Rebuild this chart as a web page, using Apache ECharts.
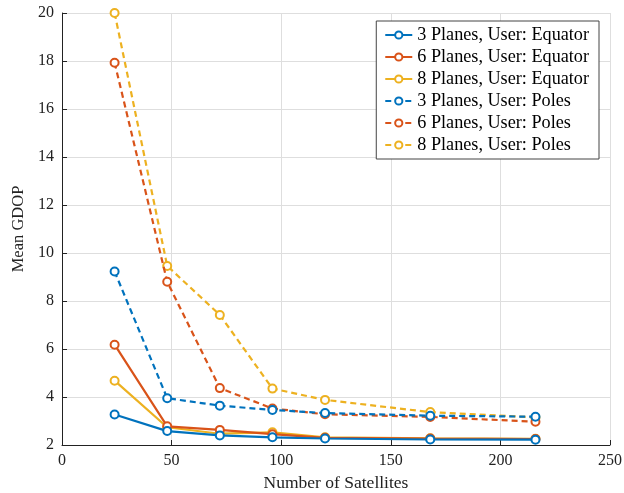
<!DOCTYPE html>
<html><head><meta charset="utf-8">
<script src="https://cdn.jsdelivr.net/npm/echarts@6/dist/echarts.min.js"></script>
<style>html,body{margin:0;padding:0;background:#fff}#c{width:624px;height:493px}</style>
</head><body><div id="c"></div>
<script>
const satellites = [24, 48, 72, 96, 120, 168, 216];
const seriesNames = ['3 Planes, User: Equator','6 Planes, User: Equator','8 Planes, User: Equator','3 Planes, User: Poles','6 Planes, User: Poles','8 Planes, User: Poles'];
const eq3 = [3.27, 2.58, 2.4, 2.32, 2.27, 2.23, 2.22];
const eq6 = [6.18, 2.78, 2.63, 2.45, 2.3, 2.27, 2.25];
const eq8 = [4.68, 2.74, 2.47, 2.53, 2.32, 2.28, 2.26];
const po3 = [9.23, 3.95, 3.64, 3.46, 3.33, 3.22, 3.18];
const po6 = [17.93, 8.8, 4.37, 3.52, 3.28, 3.17, 2.97];
const po8 = [20.0, 9.46, 7.42, 4.35, 3.88, 3.37, 3.15];
const xTicks = [0, 50, 100, 150, 200, 250];
const yTicks = [2, 4, 6, 8, 10, 12, 14, 16, 18, 20];

const colors = ['#0072BD', '#D95319', '#EDB120', '#0072BD', '#D95319', '#EDB120'];
const allData = [eq3, eq6, eq8, po3, po6, po8];
const font = 'Liberation Serif';

const chart = echarts.init(document.getElementById('c'), null, {renderer: 'canvas'});
chart.setOption({
  animation: false,
  backgroundColor: '#fff',
  textStyle: {fontFamily: font},
  grid: {left: 62, right: 14, top: 13, bottom: 48, containLabel: false, outerBoundsMode: 'none'},
  legend: {
    orient: 'vertical', right: 25, top: 21,
    backgroundColor: '#fff', borderColor: '#444', borderWidth: 1,
    padding: [4, 10, 4, 8], itemGap: 2, itemWidth: 27, itemHeight: 9,
    textStyle: {fontFamily: font, fontSize: 18.2, color: '#000', lineHeight: 20},
    data: seriesNames
  },
  xAxis: {
    type: 'value', min: xTicks[0], max: xTicks[xTicks.length-1], interval: 50,
    name: 'Number of Satellites', nameLocation: 'middle', nameGap: 29,
    nameTextStyle: {fontFamily: font, fontSize: 17.5, color: '#222'},
    axisLine: {show: true, lineStyle: {color: '#222', width: 1}},
    axisTick: {show: true, inside: true, length: 5, lineStyle: {color: '#222'}},
    axisLabel: {fontFamily: font, fontSize: 16, color: '#222', margin: 8},
    splitLine: {show: true, lineStyle: {color: '#dedede', width: 1}}
  },
  yAxis: {
    type: 'value', min: yTicks[0], max: yTicks[yTicks.length-1], interval: 2,
    name: 'Mean GDOP', nameLocation: 'middle', nameGap: 34, nameRotate: 90,
    nameTextStyle: {fontFamily: font, fontSize: 16.5, color: '#222'},
    axisLine: {show: true, lineStyle: {color: '#222', width: 1}},
    axisTick: {show: true, inside: true, length: 5, lineStyle: {color: '#222'}},
    axisLabel: {fontFamily: font, fontSize: 16, color: '#222', margin: 8},
    splitLine: {show: true, lineStyle: {color: '#dedede', width: 1}}
  },
  series: seriesNames.map((n, i) => ({
    name: n, type: 'line',
    data: satellites.map((x, j) => [x, allData[i][j]]),
    symbol: 'emptyCircle', symbolSize: 8, showSymbol: true,
    itemStyle: {color: colors[i], borderWidth: 2.2},
    lineStyle: {color: colors[i], width: 2.2, type: i < 3 ? 'solid' : [6, 4]},
    z: 10 - i
  }))
});
</script></body></html>
